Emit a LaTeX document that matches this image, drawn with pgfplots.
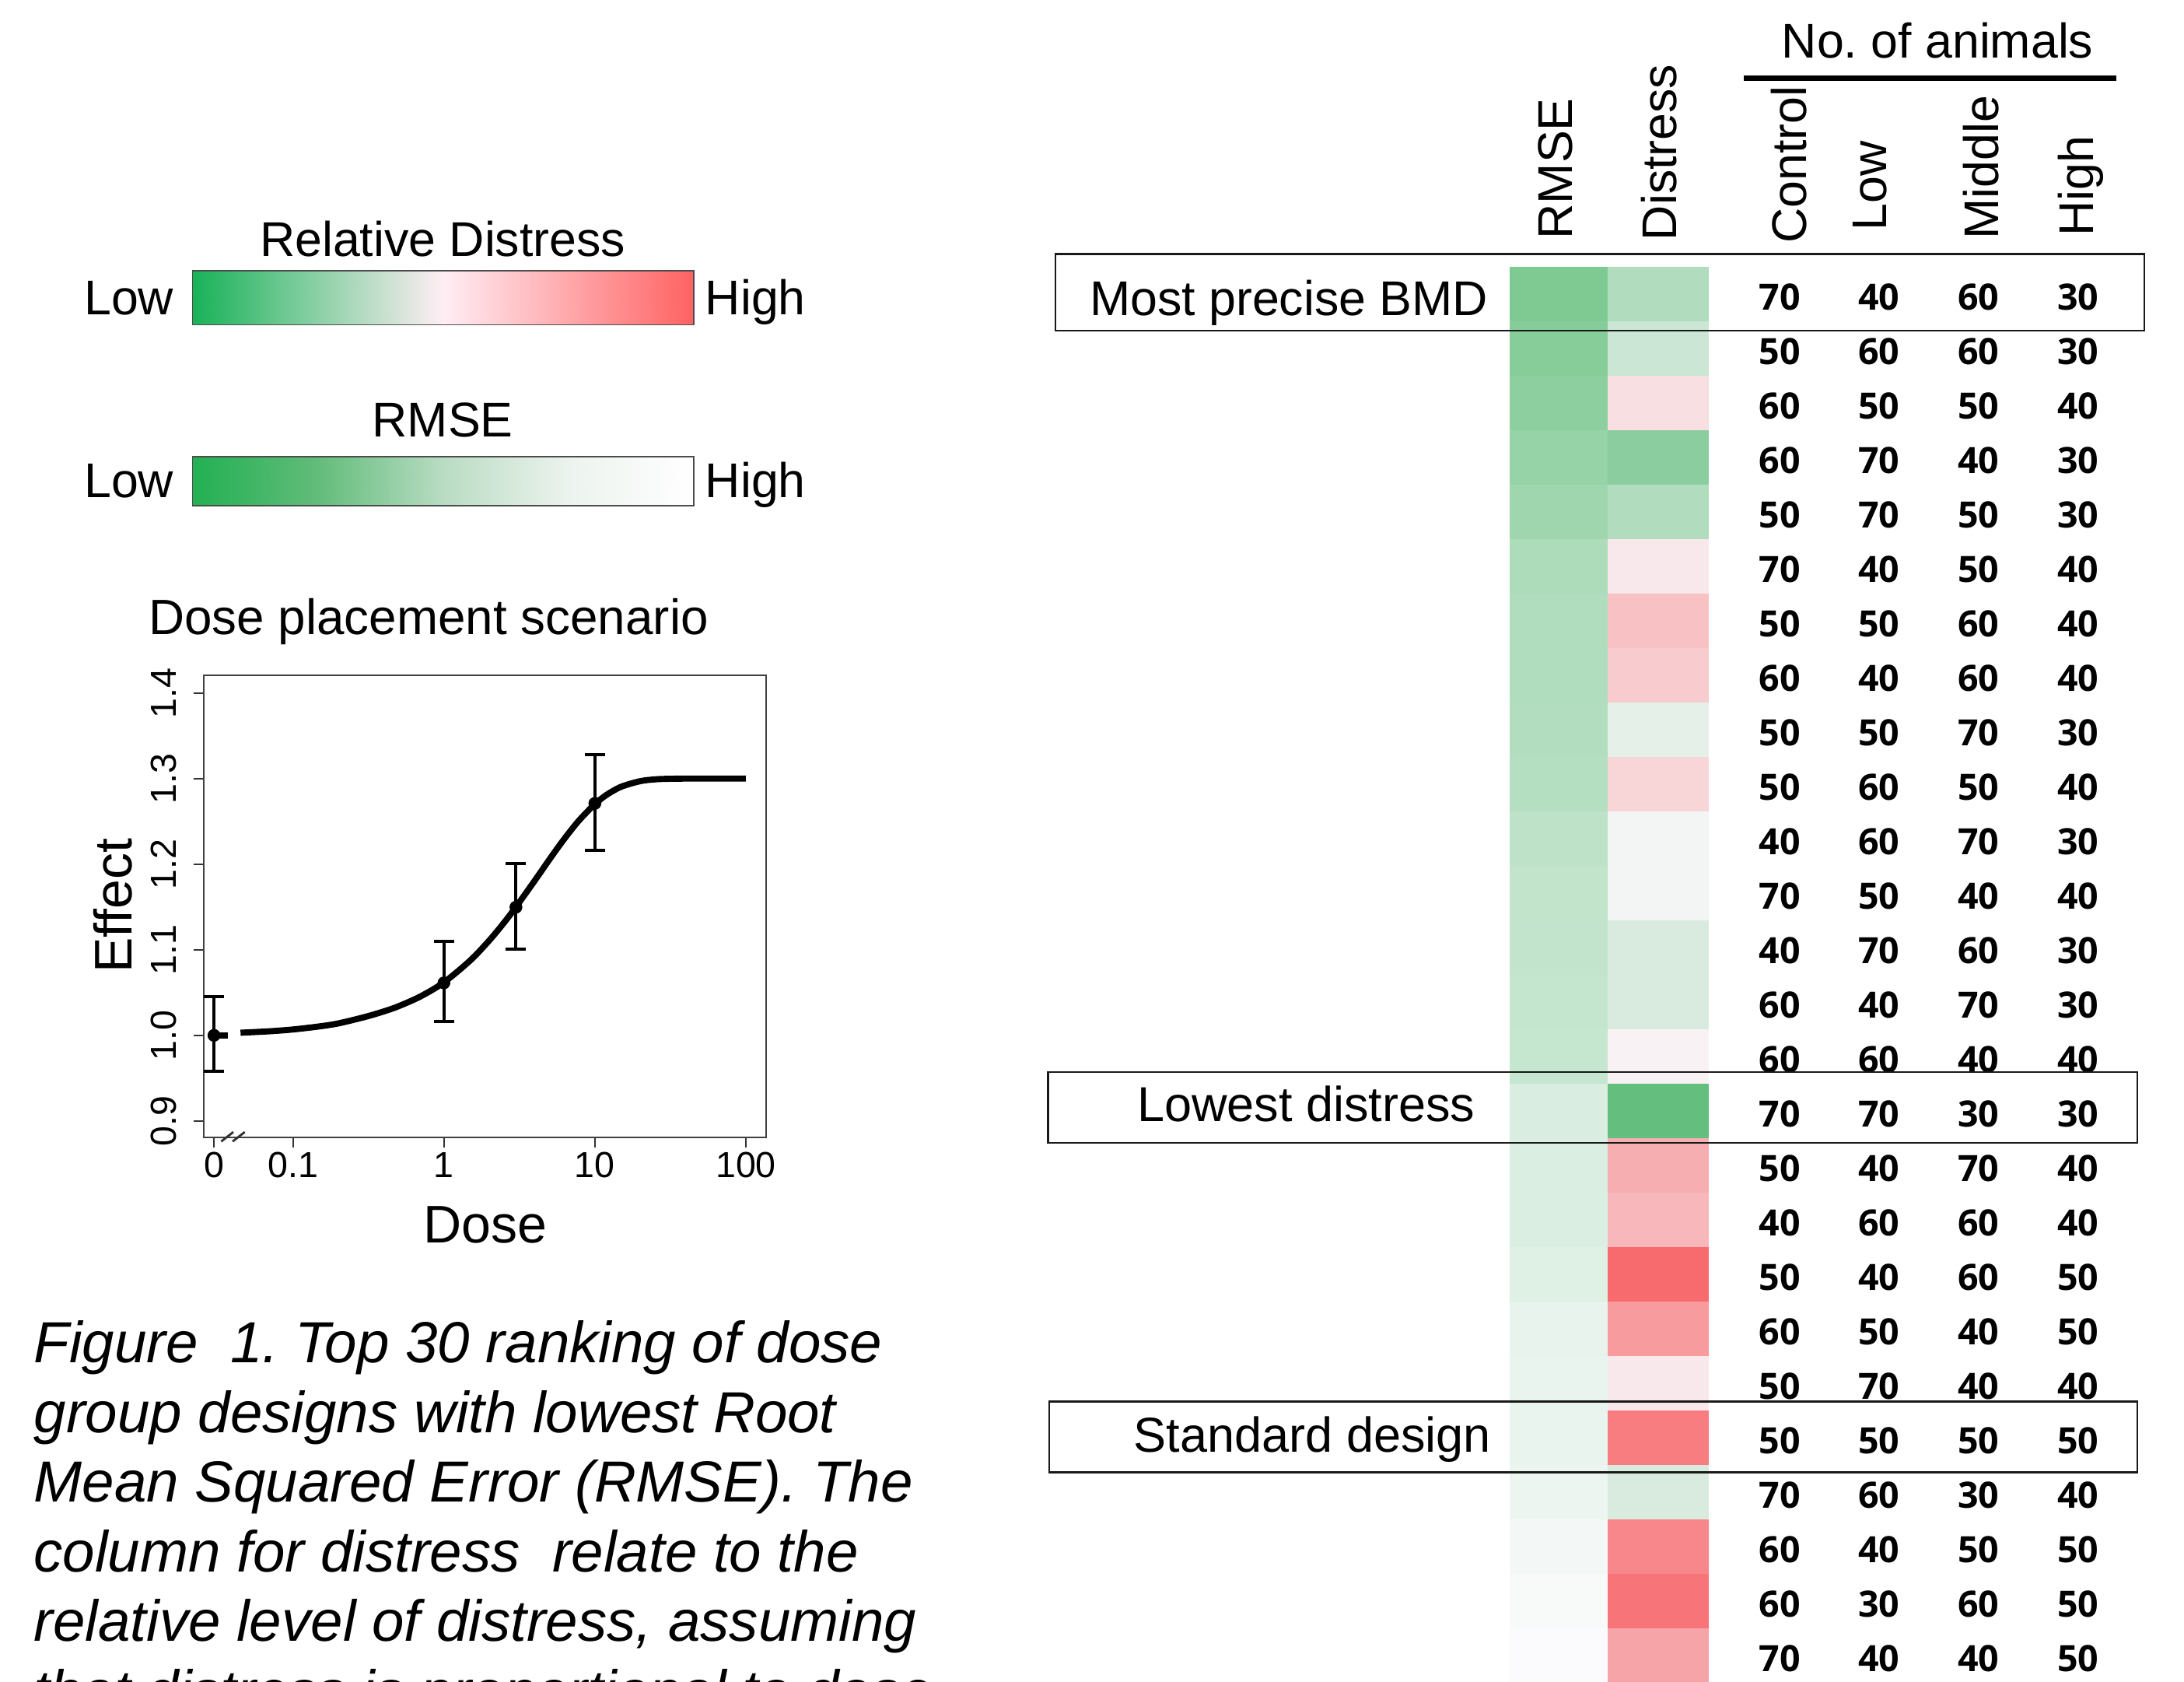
\documentclass[border=0pt]{standalone}
\usepackage{pgfplots}
\pgfplotsset{compat=1.18}
\usepackage{pgfplotstable}
\usepackage{fontspec}
\setmainfont{Liberation Sans}
\newfontfamily\numfont{Open Sans}
\newcommand{\sz}[1]{\fontsize{#1}{#1}\selectfont}
\frenchspacing

\pgfdeclareplotmark{rcell}{\pgfpathrectangle{\pgfpoint{-17.6pt}{-9.9pt}}{\pgfpoint{35.2pt}{19.8pt}}\pgfusepathqfill}
\pgfdeclareplotmark{dcell}{\pgfpathrectangle{\pgfpoint{-18.25pt}{-9.9pt}}{\pgfpoint{36.5pt}{19.8pt}}\pgfusepathqfill}

\pgfplotsset{
  colormap={rmsecm}{rgb255(0pt)=(127,202,147) rgb255(1pt)=(251,251,253)},
  colormap={distcm}{rgb255(0pt)=(100,190,126) rgb255(115pt)=(248,247,249) rgb255(260pt)=(247,106,110)},
  colormap={distleg}{rgb255(0pt)=(24,178,88) rgb255(1pt)=(255,238,244) rgb255(2pt)=(255,98,98)},
  colormap={rmseleg}{rgb255(0pt)=(34,176,82) rgb255(1pt)=(98,188,122) rgb255(2pt)=(185,220,195) rgb255(3pt)=(236,243,238) rgb255(4pt)=(255,255,255)},
  tablegeom/.style={at={(0pt,0pt)}, anchor=south west, scale only axis,
    width=784pt, height=603.5pt, hide axis, clip=false,
    xmin=0, xmax=1568, ymin=-4.4106, ymax=26.467, y dir=reverse},
  pxgeom/.style={at={(0pt,0pt)}, anchor=south west, scale only axis,
    width=784pt, height=603.5pt, hide axis, clip=false,
    xmin=0, xmax=1568, ymin=0, ymax=1207, y dir=reverse},
  legbar/.style={anchor=south west, scale only axis, width=180pt,
    xmin=0, xmax=1, ymin=0, ymax=1, xtick=\empty, ytick=\empty, axis on top,
    axis line style={black!70, line width=0.5pt}},
}

% rank, number of animals per group (Control, Low, Middle, High), RMSE, relative distress
\pgfplotstableread{
row ctrl low mid high rmse dist
1 70 40 60 30 0.07332 520
2 50 60 60 30 0.106068 540
3 60 50 50 40 0.129689 600
4 60 70 40 30 0.169648 490
5 50 70 50 30 0.202937 520
6 70 40 50 40 0.2617 590
7 50 50 60 40 0.27405 630
8 60 40 60 40 0.275027 620
9 50 50 70 30 0.282427 560
10 50 60 50 40 0.293496 610
11 40 60 70 30 0.326375 570
12 70 50 40 40 0.341868 570
13 40 70 60 30 0.346857 550
14 60 40 70 30 0.357323 550
15 60 60 40 40 0.361516 580
16 70 70 30 30 0.44105 460
17 50 40 70 40 0.4467 650
18 40 60 60 40 0.44721 640
19 50 40 60 50 0.468214 720
20 60 50 40 50 0.50019 670
21 50 70 40 40 0.50872 590
22 50 50 50 50 0.513364 700
23 70 60 30 40 0.523464 550
24 60 40 50 50 0.5489 690
25 60 30 60 50 0.5678 710
26 70 40 40 50 0.5801 660
}\designs

\pgfplotstableread{
x y
0 0
0.1 0
0.2 0
0.3 0
0.4 0
0.5 0
0.6 0
0.7 0
0.8 0
0.9 0
1 0
0 1
0.1 1
0.2 1
0.3 1
0.4 1
0.5 1
0.6 1
0.7 1
0.8 1
0.9 1
1 1
}\legendgrid

\begin{document}
\begin{tikzpicture}[every node/.append style={inner sep=0pt}]
\path[use as bounding box] (0,0) rectangle (784pt,603.5pt);
\clip (0,0) rectangle (784pt,603.5pt);

% ---------- colour legends ----------
\begin{axis}[legbar, at={(69.1pt,486.95pt)}, height=19.4pt, colormap name=distleg]
\addplot[surf, shader=interp, mesh/cols=11, point meta=x] table {\legendgrid};
\end{axis}
\begin{axis}[legbar, at={(69.1pt,422pt)}, height=17.65pt, colormap name=rmseleg]
\addplot[surf, shader=interp, mesh/cols=11, point meta=x] table {\legendgrid};
\end{axis}

% ---------- dose placement scenario ----------
\begin{axis}[at={(73.05pt,195.4pt)}, anchor=south west, scale only axis,
  width=201.95pt, height=165.85pt,
  xmode=log, xmin=0.02557, xmax=136.1, ymin=0.8811, ymax=1.421,
  xtick={0.03,0.1,1,10,100}, xticklabels={0,0.1,1,10,100},
  ytick={0.9,1,1.1,1.2,1.3,1.4}, yticklabels={0.9,1.0,1.1,1.2,1.3,1.4},
  xminorticks=false, yminorticks=false,
  xtick pos=left, ytick pos=left,
  tick align=outside, major tick length=3.6pt,
  every tick/.style={black!80, line width=0.5pt},
  axis line style={black!75, line width=0.5pt},
  ticklabel style={font=\sz{13}, inner sep=0pt},
  xticklabel style={anchor=north, text height=9.3pt, yshift=-1.5pt},
  yticklabel style={rotate=90, anchor=south, text depth=0pt, yshift=6pt},
  clip=false]
\addplot[black, line width=2.2pt, smooth] coordinates {
(0.045,1.0031) (0.07,1.0048) (0.1,1.0069) (0.15,1.0105) (0.2,1.0140) (0.3,1.0215)
(0.4,1.0280) (0.5,1.0340) (0.7,1.0455) (1,1.0619) (1.5,1.0878) (2,1.1110)
(2.5,1.1316) (3,1.1500) (4,1.1809) (5,1.2055) (6,1.2250) (7,1.2404) (8,1.2527)
(10,1.2702) (12,1.2812) (15,1.2906) (20,1.2970) (25,1.2991) (30,1.2997)
(40,1.3000) (60,1.3000) (100,1.3000)};
\addplot[black, line width=2.2pt] coordinates {(0.03,1.0) (0.037,1.0)};
\addplot[black, only marks, mark=*, mark size=2.1pt,
  error bars/.cd, y dir=both, y explicit,
  error bar style={line width=1.1pt},
  error mark options={rotate=90, line width=1.1pt, mark size=3.6pt}] coordinates {
 (0.03,1.0) += (0,0.045) -= (0,0.042)
 (1,1.0613) += (0,0.0487) -= (0,0.0449)
 (3,1.1498) += (0,0.0511) -= (0,0.0491)
 (10,1.271) += (0,0.0572) -= (0,0.0547)
};
\end{axis}

% ---------- heat map: RMSE ----------
\begin{axis}[tablegeom, colormap name=rmsecm, point meta min=0.07332, point meta max=0.585]
\addplot[scatter, only marks, mark=rcell,
  scatter/use mapped color={draw=none, fill=mapped color},
  point meta=explicit] table[x expr=1119, y=row, meta=rmse] {\designs};
\end{axis}

% ---------- heat map: relative distress ----------
\begin{axis}[tablegeom, colormap name=distcm, point meta min=460, point meta max=720]
\addplot[scatter, only marks, mark=dcell,
  scatter/use mapped color={draw=none, fill=mapped color},
  point meta=explicit] table[x expr=1190.5, y=row, meta=dist] {\designs};
\end{axis}

% ---------- numbers of animals ----------
\begin{axis}[tablegeom,
  every node near coord/.style={anchor=center, inner sep=0pt, yshift=-0.8pt,
    font=\numfont\bfseries\sz{13}}]
\addplot[only marks, mark=none, nodes near coords, point meta=explicit symbolic]
  table[x expr=1277.7, y=row, meta=ctrl] {\designs};
\addplot[only marks, mark=none, nodes near coords, point meta=explicit symbolic]
  table[x expr=1349, y=row, meta=low] {\designs};
\addplot[only marks, mark=none, nodes near coords, point meta=explicit symbolic]
  table[x expr=1420.5, y=row, meta=mid] {\designs};
\addplot[only marks, mark=none, nodes near coords, point meta=explicit symbolic]
  table[x expr=1492, y=row, meta=high] {\designs};
\end{axis}

% ---------- texts, frames ----------
\begin{axis}[pxgeom]
% legends
\node[anchor=base, font=\sz{17.5}] at (axis cs:317.8,184) {Relative Distress};
\node[anchor=base east, font=\sz{17.5}] at (axis cs:125,226) {Low};
\node[anchor=base west, font=\sz{17.5}] at (axis cs:506,226) {High};
\node[anchor=base, font=\sz{17.5}] at (axis cs:317.8,313.4) {RMSE};
\node[anchor=base east, font=\sz{17.5}] at (axis cs:125,357) {Low};
\node[anchor=base west, font=\sz{17.5}] at (axis cs:506,357) {High};
% dose plot texts
\node[anchor=base west, font=\sz{17.8}] at (axis cs:106.5,455.6) {Dose placement scenario};
\node[rotate=90, anchor=base, font=\sz{19}] at (axis cs:94.8,650) {Effect};
\node[anchor=base, font=\sz{19}] at (axis cs:348.6,892.2) {Dose};
\draw[line width=0.8pt, black!80] (axis cs:158.8,819.3) -- (axis cs:167.5,812.5);
\draw[line width=0.8pt, black!80] (axis cs:167,819.3) -- (axis cs:175.7,812.5);
% caption
\node[anchor=base west, font=\itshape\sz{20.8}] at (axis cs:24,978) {Figure\ \ 1. Top 30 ranking of dose};
\node[anchor=base west, font=\itshape\sz{20.8}] at (axis cs:24,1028) {group designs with lowest Root};
\node[anchor=base west, font=\itshape\sz{20.8}] at (axis cs:24,1078) {Mean Squared Error (RMSE). The};
\node[anchor=base west, font=\itshape\sz{20.8}] at (axis cs:24,1128) {column for distress\ \ relate to the};
\node[anchor=base west, font=\itshape\sz{20.8}] at (axis cs:24,1178) {relative level of distress, assuming};
\node[anchor=base west, font=\itshape\sz{20.8}] at (axis cs:24,1228) {that distress is proportional to dose};
% table headers
\node[anchor=base, font=\sz{17.5}] at (axis cs:1391,41.5) {No. of animals};
\draw[line width=2pt] (axis cs:1251.7,56) -- (axis cs:1519.2,56);
\node[rotate=90, anchor=base west, font=\sz{17.5}] at (axis cs:1128.6,172) {RMSE};
\node[rotate=90, anchor=base west, font=\sz{17.5}] at (axis cs:1203.6,173) {Distress};
\node[rotate=90, anchor=base west, font=\sz{17.5}] at (axis cs:1296.7,175) {Control};
\node[rotate=90, anchor=base west, font=\sz{17.5}] at (axis cs:1354.3,166) {Low};
\node[rotate=90, anchor=base west, font=\sz{17.5}] at (axis cs:1434.9,172) {Middle};
\node[rotate=90, anchor=base west, font=\sz{17.5}] at (axis cs:1503,170) {High};
% highlighted designs
\draw[black!90, line width=0.7pt] (axis cs:757.7,182.4) rectangle (axis cs:1539.6,237.3);
\node[anchor=base west, font=\sz{17.5}] at (axis cs:782,226.2) {Most precise BMD};
\draw[black!90, line width=0.7pt] (axis cs:752.5,769.5) rectangle (axis cs:1534.6,820.3);
\node[anchor=base west, font=\sz{17.6}] at (axis cs:816,805) {Lowest distress};
\draw[black!90, line width=0.7pt] (axis cs:753.4,1006) rectangle (axis cs:1534.6,1056.7);
\node[anchor=base west, font=\sz{17.6}] at (axis cs:813.6,1042.3) {Standard design};
\end{axis}
\end{tikzpicture}
\end{document}
